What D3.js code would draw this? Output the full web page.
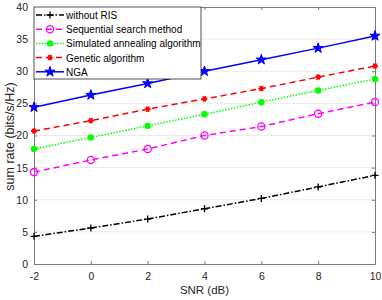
<!DOCTYPE html>
<html>
<head>
<meta charset="utf-8">
<style>
  body { margin: 0; background: #fff; }
  text { font-family: "Liberation Sans", Arial, sans-serif; }
</style>
</head>
<body>
<script src="https://d3js.org/d3.v7.min.js"></script>
<script>
var snr = [-2, 0, 2, 4, 6, 8, 10];
var noRIS = [4.3, 5.6, 7.0, 8.6, 10.2, 12.0, 13.8];
var seqSearch = [14.3, 16.2, 17.9, 20.0, 21.4, 23.4, 25.2];
var simAnneal = [17.9, 19.7, 21.5, 23.3, 25.2, 27.0, 28.8];
var genetic = [20.7, 22.3, 24.1, 25.7, 27.3, 29.1, 30.8];
var nga = [24.4, 26.3, 28.1, 30.0, 31.8, 33.6, 35.5];
var xTicks = [-2, 0, 2, 4, 6, 8, 10];
var yTicks = [0, 5, 10, 15, 20, 25, 30, 35, 40];

var series = [
  {name: "without RIS", values: noRIS, color: "#000", dash: "6,2,1.5,2", marker: "plus"},
  {name: "Sequential search method", values: seqSearch, color: "#ff00ff", dash: "6,4", marker: "circle"},
  {name: "Simulated annealing algorithm", values: simAnneal, color: "#00ff00", dash: "1.5,1.5", marker: "dot"},
  {name: "Genetic algorithm", values: genetic, color: "#ff0000", dash: "6,4", marker: "x"},
  {name: "NGA", values: nga, color: "#0000ff", dash: null, marker: "star"}
];

var W = 382, H = 300;
var L = 34, R = 375, T = 7, B = 264;

var svg = d3.select("body").append("svg").attr("width", W).attr("height", H);

var x = d3.scaleLinear().domain([-2, 10]).range([L, R]);
var y = d3.scaleLinear().domain([0, 40]).range([B, T]);

// grid
svg.append("g").selectAll("line").data(yTicks.slice(1, -1)).enter().append("line")
  .attr("x1", L).attr("x2", R)
  .attr("y1", function(d){ return y(d); }).attr("y2", function(d){ return y(d); })
  .attr("stroke", "#ebebeb").attr("stroke-width", 1);

// axes (ticks inward, matlab style)
var axColor = "#7a7a7a";
var gx = svg.append("g").attr("transform", "translate(0," + B + ")")
  .call(d3.axisBottom(x).tickValues(xTicks).tickSizeInner(-3).tickSizeOuter(0).tickPadding(9)
    .tickFormat(function(d){ return String(d); }));
var gxt = svg.append("g").attr("transform", "translate(0," + T + ")")
  .call(d3.axisTop(x).tickValues(xTicks).tickSizeInner(-3).tickSizeOuter(0).tickFormat(""));
var gy = svg.append("g").attr("transform", "translate(" + L + ",0)")
  .call(d3.axisLeft(y).tickValues(yTicks).tickSizeInner(-3).tickSizeOuter(0).tickPadding(6));
var gyr = svg.append("g").attr("transform", "translate(" + R + ",0)")
  .call(d3.axisRight(y).tickValues(yTicks).tickSizeInner(-3).tickSizeOuter(0).tickFormat(""));
[gx, gxt, gy, gyr].forEach(function(g){
  g.selectAll("path, line").attr("stroke", axColor);
  g.selectAll("text").attr("fill", "#262626").style("font-size", "10.5px")
    .style("font-family", "Liberation Sans, Arial, sans-serif");
});

// axis labels
svg.append("text").attr("x", (L + R) / 2).attr("y", 294).attr("text-anchor", "middle")
  .attr("fill", "#262626").style("font-size", "11.5px").text("SNR (dB)");
svg.append("text").attr("transform", "translate(14,136.5) rotate(-90)")
  .attr("text-anchor", "middle").attr("fill", "#262626").style("font-size", "12.5px")
  .text("sum rate (bits/s/Hz)");

function drawMarker(g, type, color, cx, cy) {
  if (type === "plus") {
    g.append("path").attr("d", "M" + (cx-3.5) + "," + cy + "h7M" + cx + "," + (cy-3.5) + "v7")
      .attr("stroke", color).attr("stroke-width", 1.3).attr("fill", "none");
  } else if (type === "circle") {
    g.append("circle").attr("cx", cx).attr("cy", cy).attr("r", 3.6)
      .attr("stroke", color).attr("stroke-width", 1.3).attr("fill", "none");
  } else if (type === "dot") {
    g.append("circle").attr("cx", cx).attr("cy", cy).attr("r", 3.2).attr("fill", color);
  } else if (type === "x") {
    g.append("path").attr("d", d3.symbol(d3.symbolAsterisk, 24)())
      .attr("transform", "translate(" + cx + "," + cy + ") rotate(30)")
      .attr("stroke", color).attr("stroke-width", 1.8).attr("fill", "none");
  } else if (type === "star") {
    g.append("path").attr("d", d3.symbol(d3.symbolStar, 32)())
      .attr("transform", "translate(" + cx + "," + cy + ")")
      .attr("stroke", color).attr("stroke-width", 1).attr("fill", color);
  }
}

var line = d3.line().x(function(d, i){ return x(snr[i]); }).y(function(d){ return y(d); });

series.forEach(function(s) {
  var g = svg.append("g");
  g.append("path").datum(s.values).attr("d", line)
    .attr("fill", "none").attr("stroke", s.color).attr("stroke-width", 1.5)
    .attr("stroke-dasharray", s.dash);
  s.values.forEach(function(v, i){ drawMarker(g, s.marker, s.color, x(snr[i]), y(v)); });
});

// legend
var lg = svg.append("g");
lg.append("rect").attr("x", L).attr("y", T).attr("width", 167).attr("height", 72)
  .attr("fill", "#fff").attr("stroke", "#262626").attr("stroke-width", 0.8);
series.forEach(function(s, i) {
  var ly = T + 8 + i * 14.2;
  lg.append("line").attr("x1", L + 2).attr("x2", L + 30).attr("y1", ly).attr("y2", ly)
    .attr("stroke", s.color).attr("stroke-width", 1.5).attr("stroke-dasharray", s.dash);
  drawMarker(lg, s.marker, s.color, L + 16, ly);
  lg.append("text").attr("x", L + 32).attr("y", ly + 4).attr("fill", "#000")
    .style("font-size", "10px").text(s.name);
});
</script>
</body>
</html>
